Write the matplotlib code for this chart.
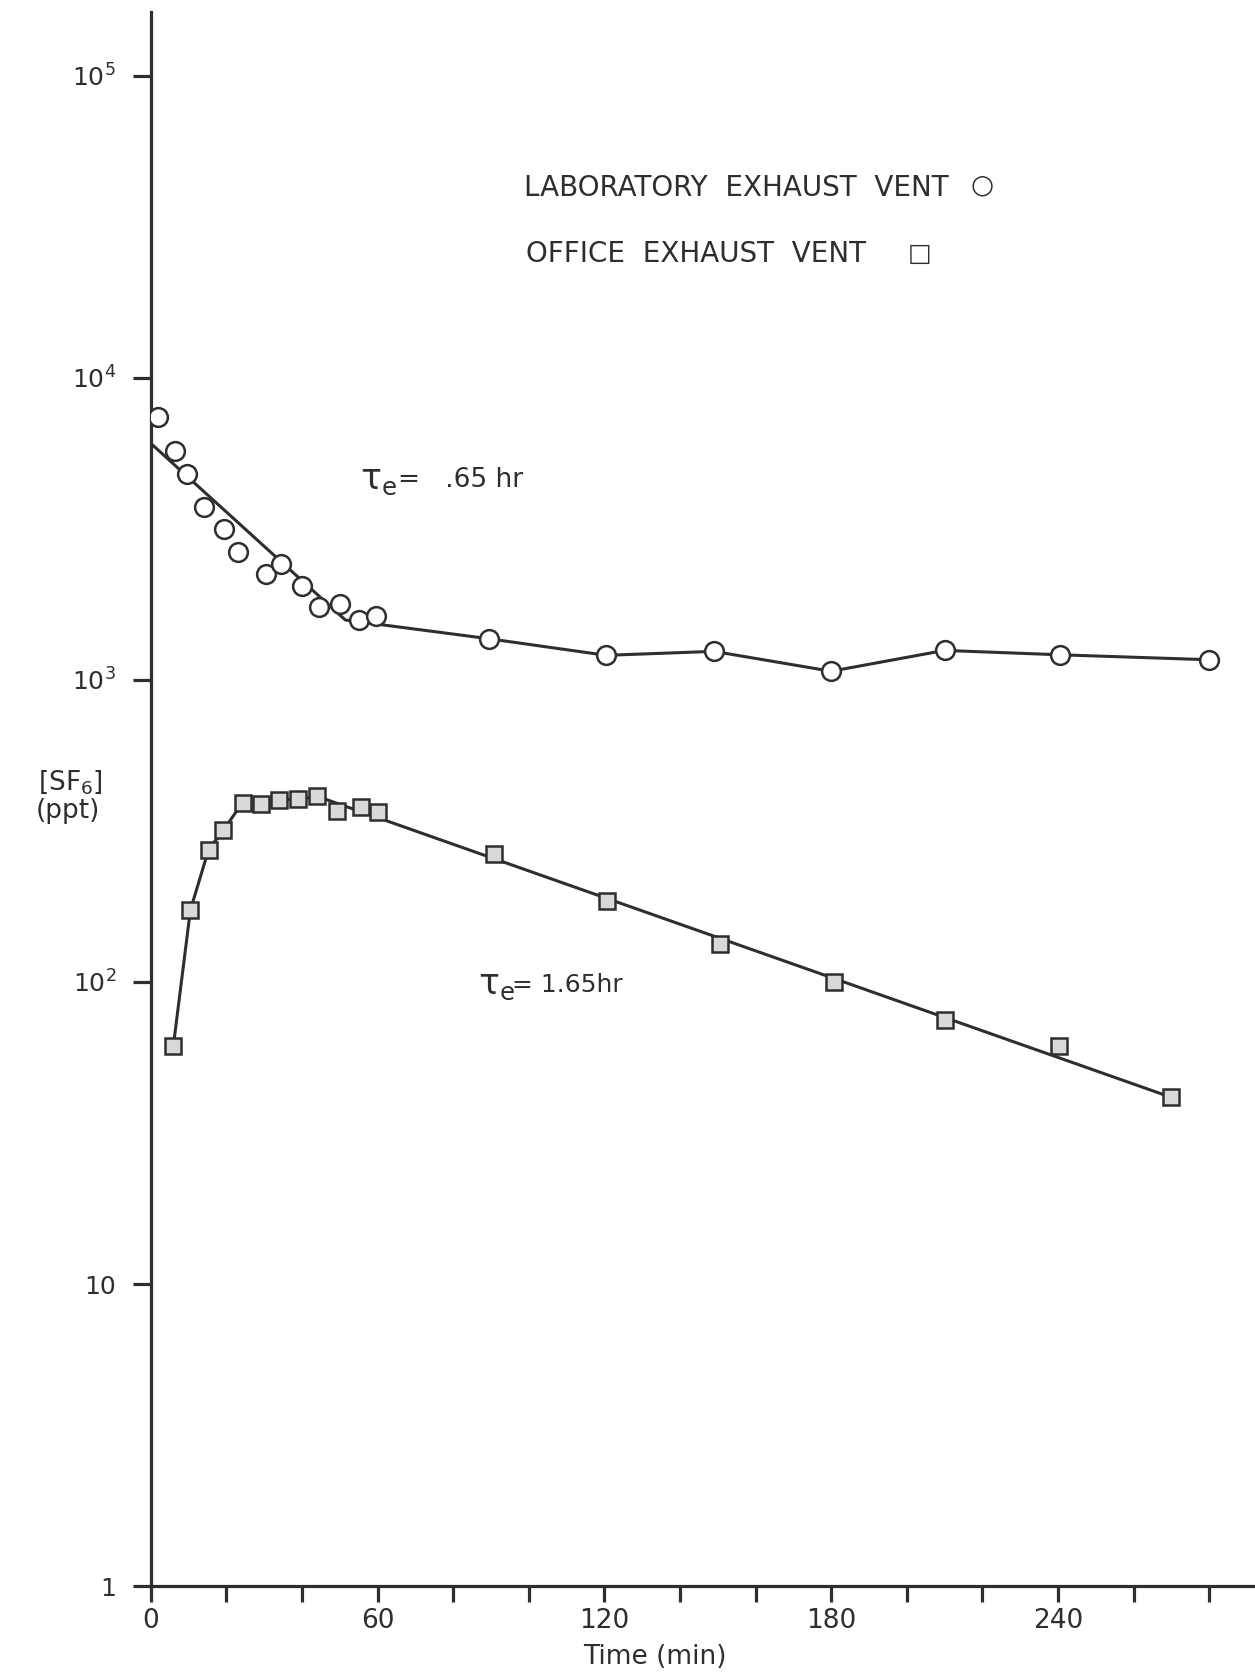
import matplotlib.pyplot as plt
import numpy as np
from matplotlib.ticker import FixedLocator, NullFormatter

# --- data (time in min, SF6 in ppt) ---
lab_t = [2, 6.5, 9.5, 14, 19.5, 23, 30.5, 34.5, 40, 44.5, 50, 55, 59.5,
         89.6, 120.5, 149, 180, 210, 240.5, 280]
lab_y = [7450, 5740, 4810, 3730, 3160, 2660, 2240, 2430, 2050, 1750, 1790,
         1580, 1630, 1369, 1207, 1244, 1069, 1253, 1212, 1167]

office_t = [6, 10.5, 15.3, 19.2, 24.3, 29.1, 34, 39, 44.1, 49.4, 55.6, 60.2,
            90.7, 120.7, 150.7, 180.7, 210, 240.3, 270]
office_y = [61.5, 173, 274, 319, 392, 388, 402, 403, 414, 369, 379, 365,
            266, 186, 134, 100, 75, 61.5, 41.5]

# drawn curves (fit line + connecting segments)
lab_line_t = [0.5, 51.5, 89.6, 120.5, 149, 180, 210, 240.5, 280]
lab_line_y = [6000, 1580, 1369, 1207, 1244, 1069, 1253, 1212, 1167]
office_line_t = [6, 10.5, 15.3, 19.5, 23, 26, 44.5, 270]
office_line_y = [61.5, 173, 274, 322, 372, 392, 410, 41.5]

y_ticks = [1, 10, 1e2, 1e3, 1e4, 1e5]
y_ticklabels = ["1", "10", r"$10^2$", r"$10^3$", r"$10^4$", r"$10^5$"]
x_ticks = [0, 60, 120, 180, 240]
x_minor = [20, 40, 80, 100, 140, 160, 200, 220, 260, 280]

INK = "#2e2e2e"
W, H = 1255, 1677

plt.rcParams["font.family"] = ["DejaVu Sans"]
plt.rcParams["mathtext.default"] = "regular"

fig = plt.figure(figsize=(W / 100, H / 100), dpi=100)
ax = fig.add_axes([150.7 / W, (H - 1586) / H, (W - 150.7) / W, (1586 - 11.7) / H])


def fpos(x, y):
    # pixel position in the reference -> figure fraction
    return x / W, 1 - y / H


ax.set_yscale("log")
ax.set_xlim(0, (W - 150.7) / 3.78)
ax.set_ylim(1, 10 ** ((1586 - 11.7) / 302))

for s in ["top", "right"]:
    ax.spines[s].set_visible(False)
for s in ["left", "bottom"]:
    ax.spines[s].set_linewidth(2.3)
    ax.spines[s].set_color(INK)

ax.plot(lab_line_t, lab_line_y, color=INK, lw=2.2, zorder=2)
ax.plot(office_line_t, office_line_y, color=INK, lw=2.2, zorder=2)
ax.plot(lab_t, lab_y, ls="none", marker="o", ms=13.5, mew=1.8,
        mec=INK, mfc="white", zorder=3)
ax.plot(office_t, office_y, ls="none", marker="s", ms=11.5, mew=1.8,
        mec=INK, mfc="#d9d9d9", zorder=3)

ax.yaxis.set_major_locator(FixedLocator(y_ticks))
ax.yaxis.set_minor_locator(FixedLocator([]))
ax.set_yticklabels(y_ticklabels)
ax.tick_params(axis="y", direction="out", length=13, width=2.3, color=INK,
               pad=12, labelsize=18, labelcolor=INK)

ax.xaxis.set_major_locator(FixedLocator(x_ticks))
ax.xaxis.set_minor_locator(FixedLocator(x_minor))
ax.xaxis.set_minor_formatter(NullFormatter())
ax.set_xticklabels([str(v) for v in x_ticks])
ax.tick_params(axis="x", which="both", direction="out", length=11.5,
               width=2.3, color=INK, pad=4, labelsize=19, labelcolor=INK)

ax.set_xlabel("Time (min)", fontsize=19, color=INK)
ax.xaxis.set_label_coords((655 - 150.7) / (W - 150.7), -0.037)

fig.text(*fpos(70, 782), r"[SF$_6$]", fontsize=19, color=INK,
         ha="center", va="center")
fig.text(*fpos(68, 811), "(ppt)", fontsize=19, color=INK,
         ha="center", va="center")

fig.text(*fpos(524, 188), "LABORATORY  EXHAUST  VENT", fontsize=20,
         color=INK, ha="left", va="center")
fig.text(*fpos(982, 186), "\u25cb", fontsize=19, color=INK,
         ha="center", va="center")
fig.text(*fpos(526, 254), "OFFICE  EXHAUST  VENT", fontsize=20,
         color=INK, ha="left", va="center")
fig.text(*fpos(920, 254), "\u25a1", fontsize=18, color=INK,
         ha="center", va="center")

fig.text(*fpos(360, 480), r"$\tau_e$", fontsize=25, color=INK,
         ha="left", va="center")
fig.text(*fpos(398, 480), "=   .65 hr", fontsize=19, color=INK,
         ha="left", va="center")
fig.text(*fpos(478, 985), r"$\tau_e$", fontsize=25, color=INK,
         ha="left", va="center")
fig.text(*fpos(512, 985), "= 1.65hr", fontsize=18, color=INK,
         ha="left", va="center")

fig.savefig("out.png", dpi=100, facecolor="white")
